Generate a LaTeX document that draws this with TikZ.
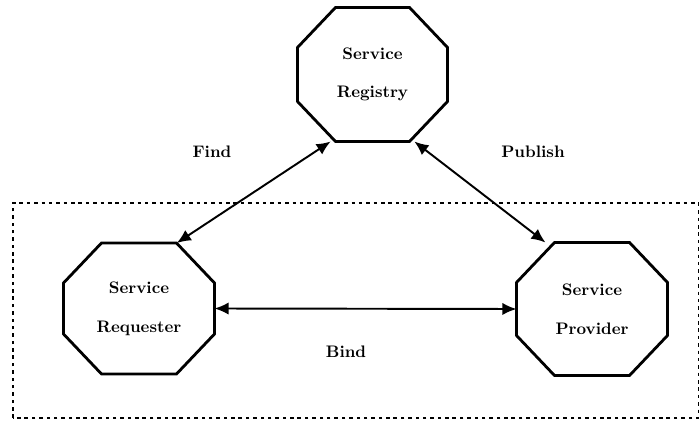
\documentclass[tikz,border=0pt]{standalone}
\usepackage{tikz}
\usetikzlibrary{positioning, arrows.meta, calc}

\begin{document}
\begin{tikzpicture}[every node/.style={transform shape}]
		\useasboundingbox (0,0) rectangle (14,8.46);
		
		\tikzstyle{octo}=[draw=none, inner sep=0pt, outer sep=0pt, align=center, font=\fontsize{9.5}{22}\selectfont\bfseries, text=black]
		\tikzstyle{link}=[line width=1.1pt, {Latex[length=8pt,width=7pt]}-{Latex[length=8pt,width=7pt]}]
		\tikzstyle{lbl}=[font=\fontsize{9.5}{11}\selectfont\bfseries, text=black]
		
		%% the three roles
		\node [octo, minimum width=3.0cm, minimum height=2.68cm] (registry) at (7.45,6.97) {Service\\Registry};
		\node [octo, minimum width=3.02cm, minimum height=2.62cm] (requester) at (2.78,2.29) {Service\\Requester};
		\node [octo, minimum width=3.02cm, minimum height=2.66cm] (provider) at (11.84,2.28) {Service\\Provider};
		
		%% octagon outlines
		\foreach \n in {registry, requester, provider}
		\draw [line width=1.6pt, line join=miter]
			($(\n.north west)+(0.76,0)$) -- ($(\n.north east)+(-0.76,0)$) --
			($(\n.north east)+(0,-0.8)$) -- ($(\n.south east)+(0,0.8)$) --
			($(\n.south east)+(-0.76,0)$) -- ($(\n.south west)+(0.76,0)$) --
			($(\n.south west)+(0,0.8)$) -- ($(\n.north west)+(0,-0.8)$) -- cycle;
		
		%% dashed frame
		\draw [line width=1.1pt, dash pattern=on 2pt off 2.2pt] (0.26,0.1) rectangle (13.97,4.4);
		
		%% connections
		\draw [link] (requester.60) -- (registry.-122);
		\draw [link] (registry.-58) -- (provider.125);
		\draw [link] (requester.east) -- (provider.west);
		
		\node [lbl] (find) at (4.24,5.42) {Find};
		\node [lbl] (publish) at (10.66,5.42) {Publish};
		\node [lbl] (bind) at (6.92,1.42) {Bind};
		
\end{tikzpicture}
\end{document}
